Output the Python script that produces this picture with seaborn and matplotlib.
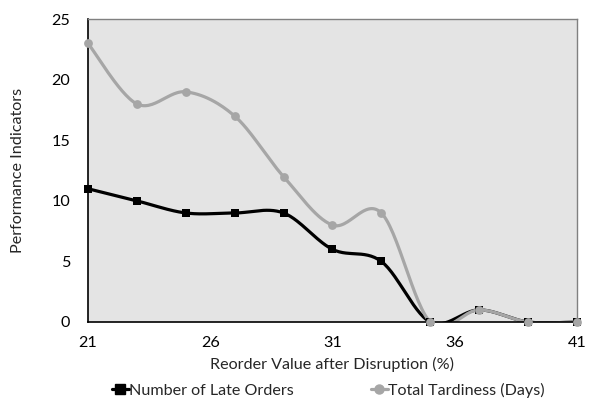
import numpy as np
import pandas as pd
import matplotlib
matplotlib.use("Agg")
import matplotlib.pyplot as plt
import seaborn as sns
from matplotlib.lines import Line2D

reorder = [21, 23, 25, 27, 29, 31, 33, 35, 37, 39, 41]
late_orders = [11, 10, 9, 9, 9, 6, 5, 0, 1, 0, 0]
tardiness = [23, 18, 19, 17, 12, 8, 9, 0, 1, 0, 0]
xticks = [21, 26, 31, 36, 41]
yticks = [0, 5, 10, 15, 20, 25]


def smooth(x, y, n=30):
    """Excel-like smoothed line (Catmull-Rom Bezier)."""
    x = np.asarray(x, float)
    y = np.asarray(y, float)
    px = np.concatenate([[x[0]], x, [x[-1]]])
    py = np.concatenate([[y[0]], y, [y[-1]]])
    xs, ys = [], []
    t = np.linspace(0, 1, n)
    for i in range(1, len(px) - 2):
        p0 = np.array([px[i - 1], py[i - 1]])
        p1 = np.array([px[i], py[i]])
        p2 = np.array([px[i + 1], py[i + 1]])
        p3 = np.array([px[i + 2], py[i + 2]])
        c1 = p1 + (p2 - p0) / 6
        c2 = p2 - (p3 - p1) / 6
        b = ((1 - t) ** 3)[:, None] * p1 + (3 * (1 - t) ** 2 * t)[:, None] * c1 \
            + (3 * (1 - t) * t ** 2)[:, None] * c2 + (t ** 3)[:, None] * p2
        xs.extend(b[:, 0])
        ys.extend(b[:, 1])
    return np.array(xs), np.array(ys)


sns.set_style("white")
plt.rcParams["font.family"] = ["Lato", "DejaVu Sans"]
FS = 11.6

fig = plt.figure(figsize=(5.89, 3.99), dpi=100)
ax = fig.add_axes([0.1494, 0.193, 0.830, 0.759])
ax.set_facecolor("#e4e4e4")

series = [
    ("Number of Late Orders", late_orders, "#000000", "s"),
    ("Total Tardiness (Days)", tardiness, "#a6a6a6", "o"),
]
for name, vals, color, marker in series:
    sx, sy = smooth(reorder, vals)
    sns.lineplot(x=sx, y=sy, ax=ax, color=color, lw=2.3, sort=False,
                 estimator=None, zorder=2)
    sns.scatterplot(x=reorder, y=vals, ax=ax, color=color, marker=marker,
                    s=40, linewidth=0, zorder=3, clip_on=False)

ax.set_xlim(21, 41)
ax.set_ylim(0, 25)
ax.set_xticks(xticks)
ax.set_yticks(yticks)
ax.tick_params(length=0, labelsize=FS, colors="#000000")
ax.tick_params(axis="y", pad=13)
ax.tick_params(axis="x", pad=10)
ax.set_xlabel("Reorder Value after Disruption (%)", fontsize=FS, labelpad=5)
ax.set_ylabel("Performance Indicators", fontsize=FS, labelpad=19)

for s in ["left", "bottom"]:
    ax.spines[s].set_color("#000000")
    ax.spines[s].set_linewidth(1.2)
for s in ["top", "right"]:
    ax.spines[s].set_color("#808080")
    ax.spines[s].set_linewidth(1.0)

handles = [Line2D([0], [0], color=c, lw=2.3, marker=m, markersize=6.5)
           for _, _, c, m in series]
fig.legend(handles, [s[0] for s in series], loc="center",
           bbox_to_anchor=(0.558, 0.022), ncol=2, frameon=False, fontsize=FS,
           handlelength=1.0, handletextpad=0.05, columnspacing=4.8,
           borderpad=0, borderaxespad=0)

fig.savefig("out.png", dpi=100)
